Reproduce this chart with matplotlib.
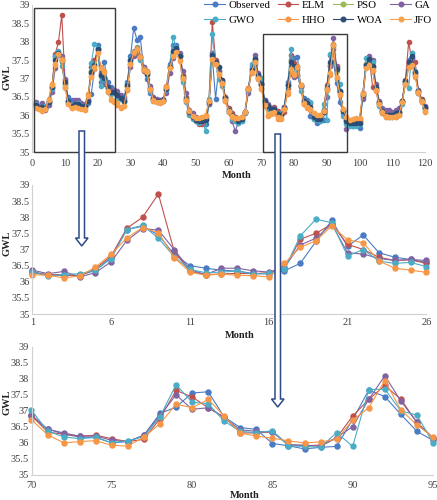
import matplotlib
matplotlib.use("Agg")
import matplotlib.pyplot as plt
from matplotlib.patches import Rectangle, Polygon

plt.rcParams['font.family'] = ['Liberation Serif', 'DejaVu Serif']

months = list(range(1, 121))

observed = [36.32, 36.20, 36.20, 36.20, 36.35, 36.75, 37.62, 37.72, 37.45, 36.85,
            36.50, 36.42, 36.36, 36.33, 36.26, 36.24, 36.34, 36.57, 37.25, 37.90,
            37.10, 37.45, 36.90, 36.76, 36.69, 36.60, 36.50, 36.45, 36.90, 37.60,
            38.37, 38.05, 38.12, 37.30, 37.00, 36.60, 36.45, 36.40, 36.40, 36.42,
            36.80, 37.40, 37.90, 37.90, 37.60, 37.00, 36.40, 36.05, 35.95, 35.90,
            35.90, 35.85, 35.75, 36.30, 37.60, 36.45, 37.30, 36.90, 36.45, 36.15,
            36.00, 35.95, 35.85, 35.85, 36.10, 36.70, 37.30, 37.40, 37.05, 36.82,
            36.42, 36.27, 36.17, 36.16, 35.99, 36.03, 36.23, 36.91, 37.11, 37.55,
            37.59, 36.80, 36.47, 36.41, 35.97, 35.90, 35.80, 35.85, 35.88, 36.72,
            37.64, 37.44, 36.88, 36.35, 36.07, 35.85, 35.75, 35.70, 35.75, 35.65,
            36.50, 37.40, 37.50, 37.30, 36.70, 36.30, 36.10, 36.00, 36.00, 36.00,
            36.05, 36.05, 36.40, 36.90, 37.50, 37.70, 37.15, 36.60, 36.40, 36.20]

elm = [36.28, 36.22, 36.22, 36.18, 36.40, 36.80, 37.66, 38.00, 38.72, 36.95,
       36.32, 36.22, 36.24, 36.26, 36.25, 36.28, 36.40, 37.32, 37.50, 37.79,
       37.16, 37.00, 36.76, 36.66, 36.68, 36.57, 36.50, 36.40, 36.80, 37.40,
       37.65, 37.75, 37.55, 37.20, 37.15, 36.75, 36.45, 36.40, 36.38, 36.40,
       36.75, 37.30, 37.60, 37.80, 37.65, 37.10, 36.50, 36.10, 35.95, 35.85,
       35.75, 35.75, 35.90, 36.40, 38.55, 37.50, 37.20, 36.95, 36.50, 36.20,
       36.05, 35.95, 35.90, 35.95, 36.10, 36.75, 37.20, 37.55, 37.10, 36.85,
       36.33, 36.26, 36.20, 36.23, 36.12, 36.03, 36.10, 36.75, 37.63, 37.43,
       37.09, 36.80, 36.30, 36.30, 36.34, 35.93, 35.90, 35.92, 36.15, 36.83,
       37.35, 37.79, 37.35, 36.63, 36.15, 35.90, 35.85, 35.80, 35.80, 35.85,
       36.60, 37.40, 37.55, 36.76, 36.75, 36.35, 36.15, 36.05, 36.00, 36.00,
       36.05, 36.10, 36.40, 36.95, 37.98, 37.50, 37.45, 36.65, 36.45, 36.20]

pso = [36.30, 36.22, 36.20, 36.20, 36.38, 36.78, 37.55, 37.70, 37.48, 36.85,
       36.35, 36.25, 36.28, 36.28, 36.25, 36.22, 36.42, 37.20, 37.40, 37.78,
       37.05, 37.05, 36.75, 36.62, 36.62, 36.52, 36.45, 36.38, 36.80, 37.45,
       37.70, 37.78, 37.55, 37.25, 37.15, 36.70, 36.45, 36.38, 36.38, 36.40,
       36.75, 37.30, 37.70, 37.80, 37.60, 37.05, 36.45, 36.10, 35.98, 35.90,
       35.85, 35.85, 35.90, 36.35, 37.70, 37.45, 37.15, 36.90, 36.45, 36.15,
       36.00, 35.92, 35.88, 35.92, 36.08, 36.70, 37.25, 37.50, 37.05, 36.85,
       36.38, 36.25, 36.17, 36.18, 36.05, 36.00, 36.18, 36.80, 37.50, 37.30,
       37.25, 36.80, 36.35, 36.32, 36.25, 35.95, 35.92, 35.92, 36.12, 36.70,
       37.40, 37.85, 37.20, 36.65, 36.12, 35.88, 35.82, 35.80, 35.80, 35.82,
       36.55, 37.40, 37.50, 37.30, 36.75, 36.32, 36.12, 36.02, 36.00, 36.00,
       36.05, 36.08, 36.38, 36.90, 37.40, 37.55, 37.15, 36.65, 36.42, 36.20]

ga = [36.36, 36.25, 36.32, 36.15, 36.28, 36.62, 37.28, 37.65, 37.60, 37.00,
      36.38, 36.22, 36.42, 36.42, 36.34, 36.30, 36.45, 37.14, 37.35, 37.79,
      36.90, 36.86, 36.72, 36.66, 36.69, 36.66, 36.55, 36.50, 36.70, 37.30,
      37.60, 37.70, 37.60, 37.30, 37.20, 36.80, 36.50, 36.45, 36.42, 36.45,
      36.60, 37.15, 37.55, 37.80, 37.70, 37.20, 36.60, 36.15, 36.05, 35.95,
      35.90, 35.85, 35.95, 36.30, 37.70, 37.45, 37.20, 36.90, 36.50, 36.10,
      35.85, 35.58, 35.80, 35.90, 36.05, 36.60, 37.25, 37.64, 37.15, 36.87,
      36.42, 36.30, 36.20, 36.20, 36.07, 36.03, 36.23, 36.85, 37.49, 37.04,
      37.09, 36.78, 36.40, 36.35, 36.32, 35.93, 35.92, 35.88, 36.15, 36.50,
      37.35, 38.09, 37.30, 36.63, 36.14, 35.62, 35.80, 35.85, 35.85, 35.90,
      36.45, 37.30, 37.60, 37.50, 36.85, 36.40, 36.20, 36.15, 36.15, 36.10,
      36.15, 36.20, 36.35, 36.85, 37.30, 37.55, 37.10, 36.70, 36.40, 36.25]

gwo = [36.30, 36.18, 36.22, 36.25, 36.35, 36.72, 37.62, 37.75, 37.35, 36.78,
       36.38, 36.28, 36.30, 36.33, 36.24, 36.26, 36.38, 37.42, 37.94, 37.83,
       36.80, 37.00, 36.64, 36.57, 36.60, 36.47, 36.45, 36.35, 36.85, 37.50,
       37.75, 37.85, 37.50, 37.25, 37.10, 36.65, 36.40, 36.35, 36.35, 36.40,
       36.70, 37.35, 38.12, 37.85, 37.60, 36.90, 36.35, 36.00, 35.90, 35.85,
       35.80, 35.85, 35.56, 36.45, 38.20, 37.40, 37.00, 36.80, 36.40, 36.10,
       35.90, 35.85, 35.80, 35.85, 36.05, 36.70, 37.40, 37.50, 37.00, 37.01,
       36.36, 36.18, 36.12, 36.16, 35.99, 36.06, 36.18, 36.81, 37.81, 37.26,
       37.22, 36.67, 36.35, 36.31, 36.37, 35.90, 35.88, 35.85, 36.31, 35.88,
       37.66, 37.67, 36.99, 36.86, 35.99, 35.75, 35.70, 35.70, 35.70, 35.75,
       36.55, 37.55, 37.50, 37.45, 36.70, 36.25, 36.05, 35.95, 35.95, 35.95,
       35.95, 36.00, 36.30, 36.90, 36.74, 37.70, 37.20, 36.60, 36.35, 36.15]

hho = [36.22, 36.20, 36.12, 36.18, 36.45, 36.85, 37.36, 37.68, 37.52, 36.75,
       36.30, 36.20, 36.24, 36.20, 36.19, 36.15, 36.57, 37.07, 37.27, 37.73,
       37.30, 37.21, 36.64, 36.42, 36.36, 36.29, 36.20, 36.25, 36.70, 37.40,
       37.70, 37.82, 37.60, 37.25, 37.20, 36.70, 36.40, 36.35, 36.33, 36.38,
       36.80, 37.30, 37.60, 37.75, 37.50, 37.00, 36.40, 36.10, 35.95, 35.90,
       35.90, 35.95, 36.00, 36.40, 37.50, 37.40, 37.10, 36.85, 36.40, 36.10,
       35.95, 35.90, 35.90, 35.95, 36.10, 36.75, 37.15, 37.45, 37.00, 36.71,
       36.25, 35.99, 36.03, 36.06, 35.91, 35.89, 36.17, 36.59, 37.20, 37.09,
       37.35, 36.83, 36.30, 36.20, 36.14, 36.05, 35.99, 36.02, 36.10, 36.70,
       37.09, 37.94, 37.02, 36.55, 36.17, 35.95, 35.85, 35.90, 35.90, 35.90,
       36.60, 37.30, 37.35, 37.20, 36.65, 36.30, 36.05, 35.95, 35.95, 35.95,
       35.95, 36.00, 36.35, 36.85, 37.30, 37.35, 37.05, 36.60, 36.35, 36.10]

woa = [36.28, 36.20, 36.22, 36.20, 36.35, 36.76, 37.50, 37.70, 37.50, 36.90,
       36.38, 36.24, 36.30, 36.30, 36.26, 36.25, 36.40, 37.18, 37.38, 37.80,
       37.10, 37.02, 36.78, 36.64, 36.64, 36.55, 36.48, 36.40, 36.82, 37.50,
       37.72, 37.80, 37.58, 37.22, 37.12, 36.72, 36.45, 36.40, 36.38, 36.42,
       36.72, 37.30, 37.75, 37.82, 37.62, 37.05, 36.45, 36.08, 35.95, 35.88,
       35.85, 35.85, 35.88, 36.35, 37.65, 37.45, 37.30, 36.95, 36.48, 36.15,
       36.00, 35.92, 35.85, 35.90, 36.08, 36.72, 37.22, 37.52, 37.10, 36.86,
       36.38, 36.25, 36.18, 36.18, 36.03, 36.02, 36.20, 36.82, 37.45, 37.35,
       37.30, 36.82, 36.38, 36.32, 36.22, 35.94, 35.90, 35.90, 36.10, 36.75,
       37.45, 37.90, 37.25, 36.65, 36.12, 35.85, 35.80, 35.78, 35.80, 35.80,
       36.55, 37.38, 37.52, 37.35, 36.78, 36.33, 36.12, 36.02, 36.00, 36.00,
       36.05, 36.08, 36.40, 36.92, 37.45, 37.60, 37.18, 36.65, 36.42, 36.22]

jfo = [36.20, 36.18, 36.15, 36.16, 36.42, 36.82, 37.40, 37.66, 37.50, 36.78,
       36.30, 36.20, 36.22, 36.20, 36.18, 36.16, 36.52, 37.05, 37.30, 37.70,
       37.28, 37.18, 36.66, 36.45, 36.38, 36.32, 36.22, 36.25, 36.72, 37.40,
       37.72, 37.80, 37.58, 37.22, 37.18, 36.72, 36.42, 36.36, 36.35, 36.38,
       36.78, 37.28, 37.62, 37.72, 37.48, 37.02, 36.42, 36.12, 35.98, 35.92,
       35.92, 35.95, 35.98, 36.38, 37.52, 37.40, 37.12, 36.88, 36.42, 36.12,
       35.98, 35.92, 35.92, 35.95, 36.10, 36.72, 37.18, 37.45, 37.02, 36.75,
       36.28, 36.02, 36.05, 36.08, 35.94, 35.92, 36.18, 36.62, 37.25, 37.12,
       37.32, 36.82, 36.32, 36.22, 36.16, 36.05, 36.00, 36.02, 36.12, 36.72,
       37.15, 37.90, 37.05, 36.58, 36.18, 35.95, 35.88, 35.90, 35.92, 35.92,
       36.58, 37.28, 37.38, 37.22, 36.68, 36.30, 36.08, 35.98, 35.96, 35.96,
       35.98, 36.02, 36.36, 36.86, 37.32, 37.38, 37.08, 36.62, 36.38, 36.12]

series_names = ['Observed', 'ELM', 'PSO', 'GA', 'GWO', 'HHO', 'WOA', 'JFO']
series_values = [observed, elm, pso, ga, gwo, hho, woa, jfo]
series_colors = ['#4A7CC4', '#C0504D', '#9BBB59', '#8064A2', '#4BACC6',
                 '#F79646', '#2C4D75', '#F9A24E']

zoom_names = ['Observed', 'ELM', 'GA', 'GWO', 'HHO']

top_xticks = list(range(0, 121, 10))
mid_xticks = [1, 6, 11, 16, 21, 26]
bot_xticks = [70, 75, 80, 85, 90, 95]
yticks = [35, 35.5, 36, 36.5, 37, 37.5, 38, 38.5, 39]

W, H = 437, 500
fig = plt.figure(figsize=(W / 100, H / 100), dpi=100)

def fx(x):
    return x / W

def fy(y):
    return 1 - y / H

axis_col = '#D0D0D0'
tick_col = '#404040'

def style(ax, xticks, xlim, xpad):
    ax.set_xlim(*xlim)
    ax.set_ylim(35, 39)
    ax.set_xticks(xticks)
    ax.set_xticklabels([str(t) for t in xticks])
    ax.set_yticks(yticks)
    ax.set_yticklabels(['%g' % t for t in yticks])
    for s in ['top', 'right']:
        ax.spines[s].set_visible(False)
    for s in ['left', 'bottom']:
        ax.spines[s].set_color(axis_col)
        ax.spines[s].set_linewidth(0.8)
    ax.tick_params(axis='both', length=0, labelsize=7.5, colors=tick_col)
    ax.tick_params(axis='x', pad=xpad)
    ax.tick_params(axis='y', pad=2)
    ax.patch.set_alpha(0)

# Top panel: all eight series over the full 120 months
ax1 = fig.add_axes([fx(32.3), fy(152), fx(425) - fx(32.3), fy(5) - fy(152)])
handles = {}
for name, vals, col in zip(series_names, series_values, series_colors):
    ln, = ax1.plot(months, vals, color=col, lw=0.8, marker='o', ms=3.0,
                   mec=col, mfc=col, clip_on=False, label=name)
    handles[name] = ln
style(ax1, top_xticks, (0, 120), 5)

ax1.add_patch(Rectangle((0.5, 35), 24.9, 3.92, fill=False, ec='#3A3A3A',
                        lw=1.0, clip_on=False, zorder=5))
ax1.add_patch(Rectangle((70.5, 35), 25.7, 3.21, fill=False, ec='#3A3A3A',
                        lw=1.0, clip_on=False, zorder=5))

# Middle panel: months 1-26
ax2 = fig.add_axes([fx(32.3), fy(314), fx(426.3) - fx(32.3), fy(185) - fy(314)])
for name, vals, col in zip(series_names, series_values, series_colors):
    if name in zoom_names:
        ax2.plot(months[0:26], vals[0:26], color=col, lw=0.8, marker='o',
                 ms=3.6, mec=col, mfc=col, clip_on=False)
style(ax2, mid_xticks, (1, 26), 3)

# Bottom panel: months 70-95
ax3 = fig.add_axes([fx(31.5), fy(474.5), fx(433) - fx(31.5), fy(346.7) - fy(474.5)])
for name, vals, col in zip(series_names, series_values, series_colors):
    if name in zoom_names:
        ax3.plot(months[69:95], vals[69:95], color=col, lw=0.8, marker='o',
                 ms=3.6, mec=col, mfc=col, clip_on=False)
style(ax3, bot_xticks, (70, 95), 5)

# axis titles
lab = dict(fontsize=7.5, fontweight='bold', color='#222222')
fig.text(fx(237), fy(175), 'Month', ha='center', va='center', **lab)
fig.text(fx(240), fy(335), 'Month', ha='center', va='center', **lab)
fig.text(fx(245), fy(496), 'Month', ha='center', va='center', **lab)
for yc in [77, 243, 402]:
    fig.text(fx(6.5), fy(yc), 'GWL', ha='center', va='center', rotation=90, **lab)

# legend
order = ['Observed', 'GWO', 'ELM', 'HHO', 'PSO', 'WOA', 'GA', 'JFO']
fig.legend([handles[n] for n in order], order, loc='upper right',
           bbox_to_anchor=(fx(433), 1.0), ncol=4, frameon=False,
           fontsize=7.8, handlelength=1.9, handletextpad=0.3,
           columnspacing=0.7, labelspacing=0.45, borderpad=0.05,
           borderaxespad=0, markerscale=1.1)

# hollow arrows
def hollow_arrow(xl, xr, ytop, yshaft, hl, hr, ytip):
    xm = (hl + hr) / 2
    pts = [(xl, ytop), (xr, ytop), (xr, yshaft), (hr, yshaft), (xm, ytip),
           (hl, yshaft), (xl, yshaft)]
    poly = Polygon([(fx(x), fy(y)) for x, y in pts], closed=True,
                   transform=fig.transFigure, fc='white', ec='#2E4A87',
                   lw=1.1, zorder=20)
    fig.add_artist(poly)

hollow_arrow(79, 84.5, 131, 238, 75.5, 88, 246)
hollow_arrow(275, 280.5, 134, 399, 271.5, 284, 407)

fig.savefig('out.png', dpi=100)
